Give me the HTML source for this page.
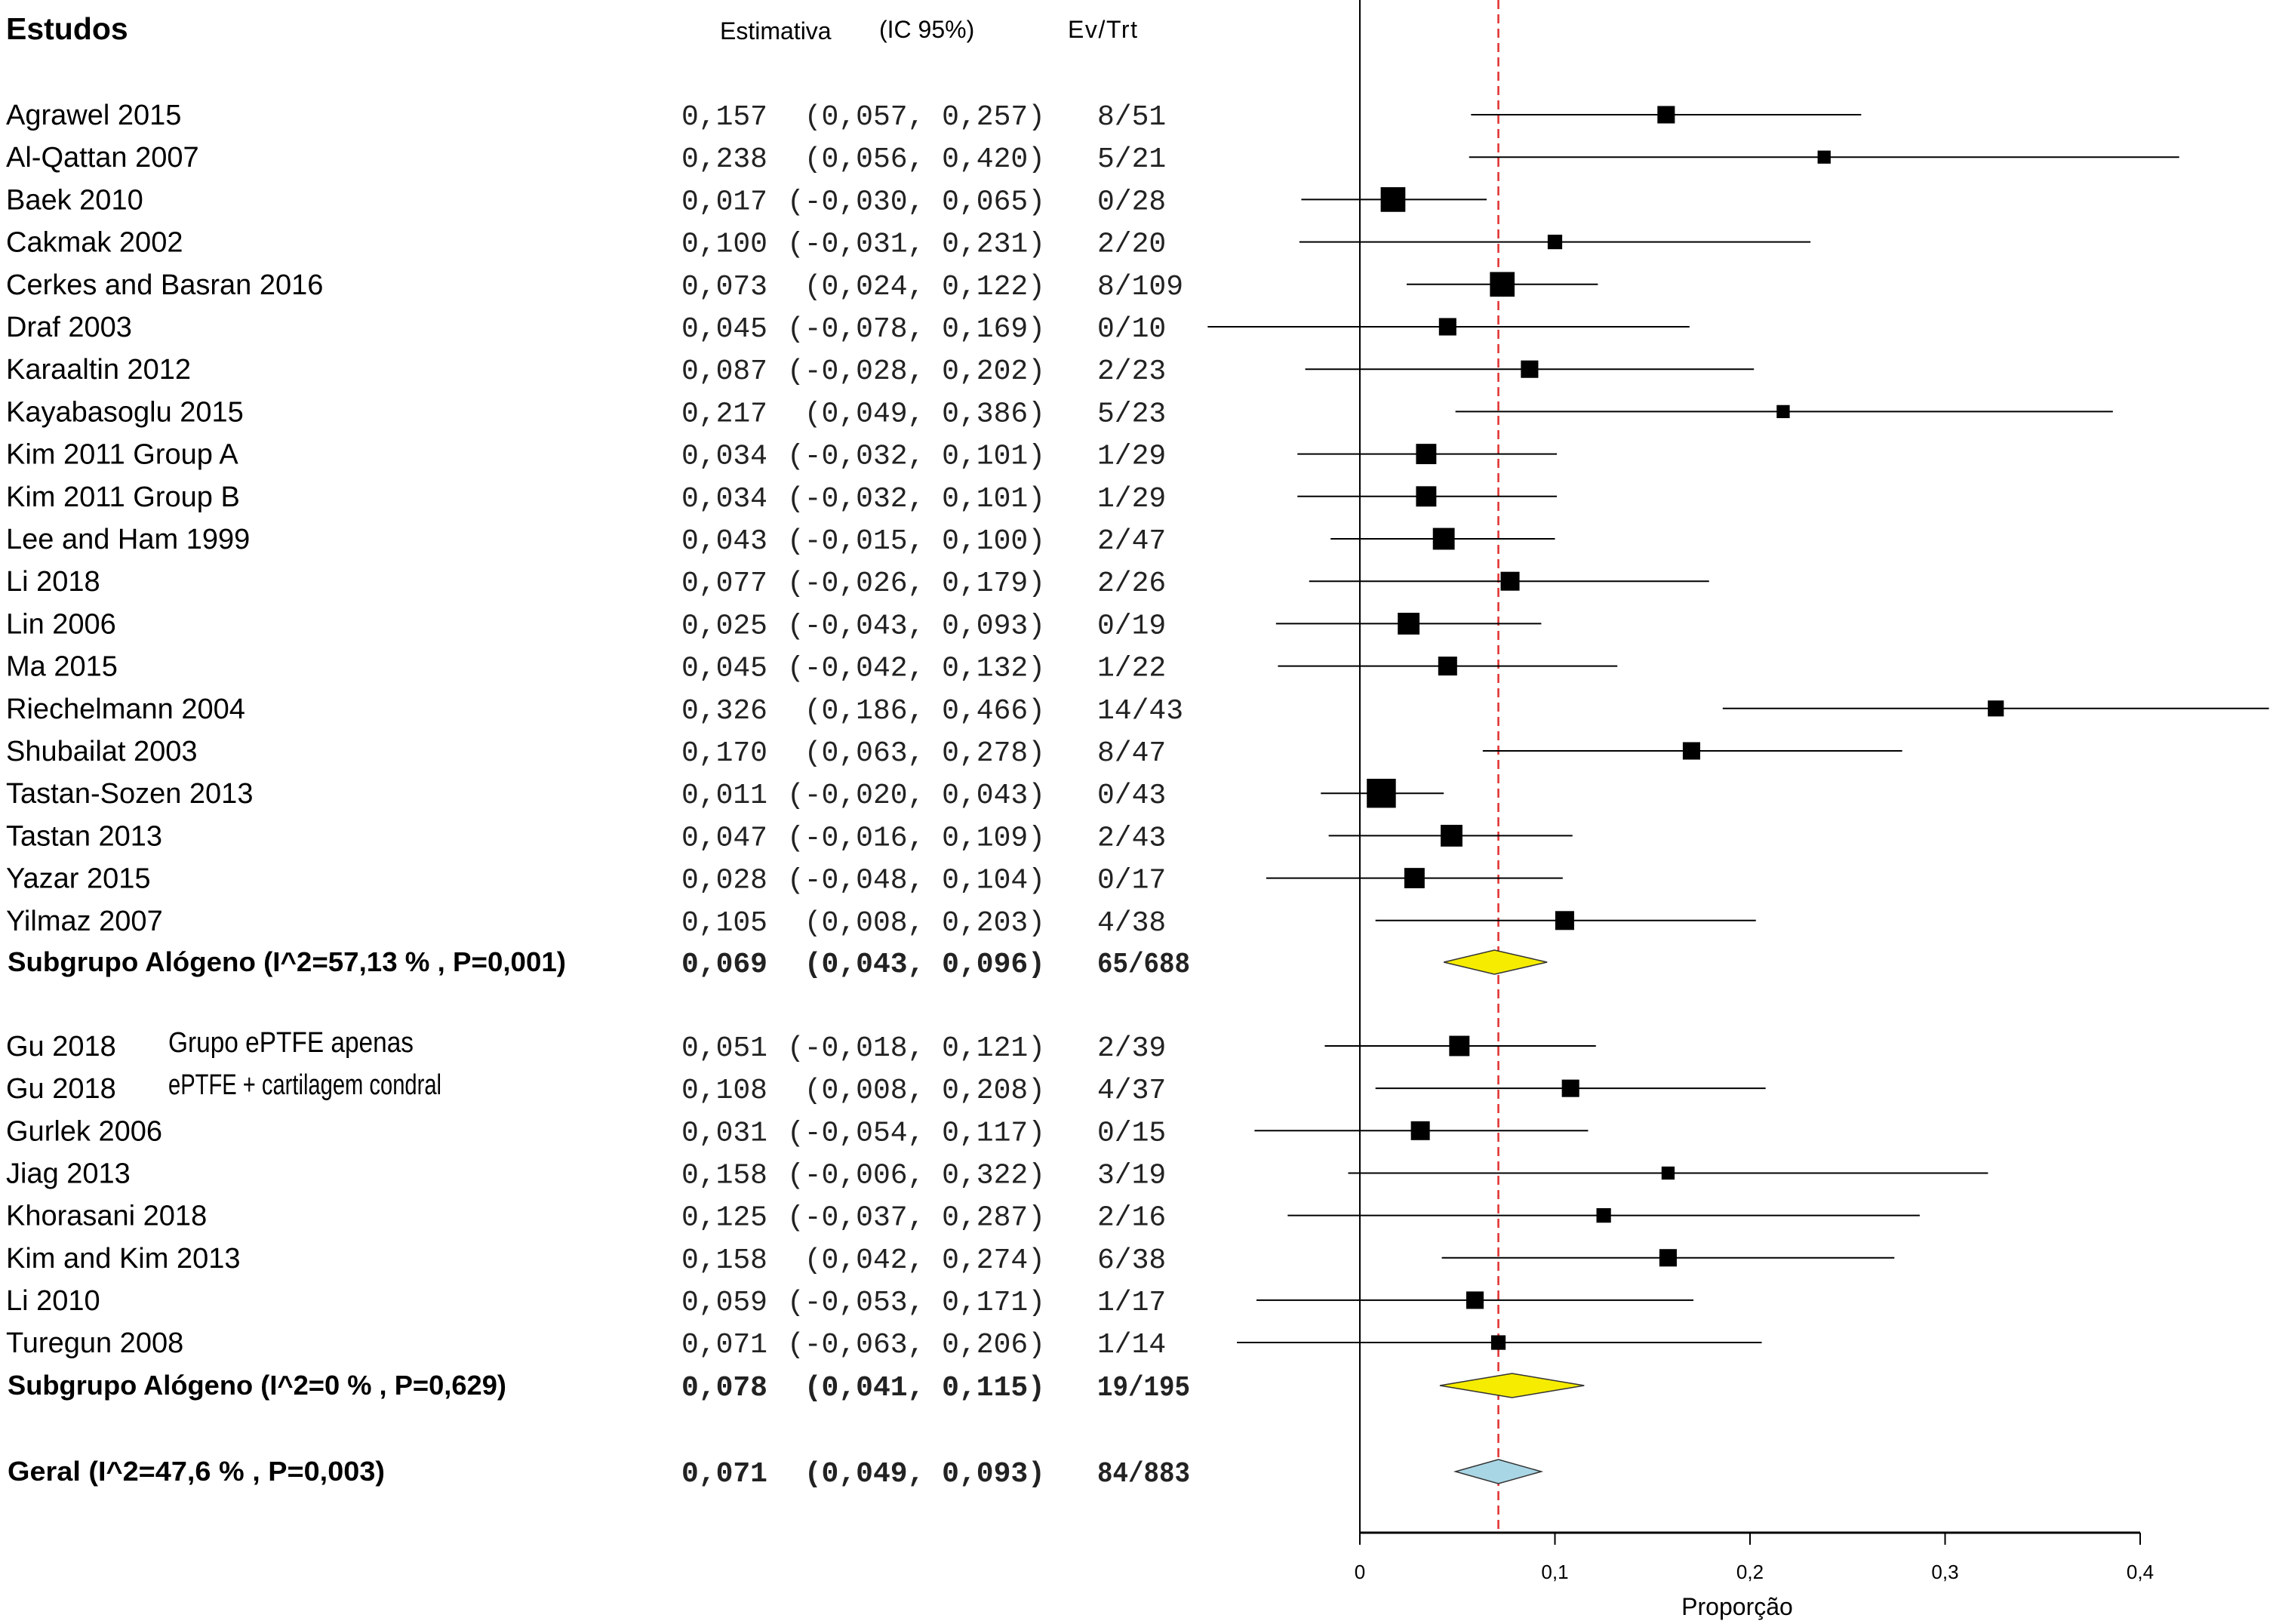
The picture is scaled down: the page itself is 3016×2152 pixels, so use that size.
<!DOCTYPE html>
<html><head><meta charset="utf-8"><style>
html,body{margin:0;padding:0;background:#fff}
svg{display:block}
.nm{font-family:"Liberation Sans",sans-serif;font-size:38px;fill:#000}
.mono{font-family:"Liberation Mono",monospace;font-size:38px;fill:#222}
.hd{font-family:"Liberation Sans",sans-serif;font-size:32px;fill:#000}
</style></head><body>
<svg id="chart" width="3016" height="2152" viewBox="0 0 3016 2152" xmlns="http://www.w3.org/2000/svg">
<text x="8" y="52" font-family="Liberation Sans, sans-serif" font-weight="bold" font-size="41">Estudos</text>
<text x="954" y="52" class="hd">Estimativa</text>
<text x="1165" y="50" class="hd">(IC 95%)</text>
<text x="1415" y="50" class="hd" textLength="92">Ev/Trt</text>
<g id="plot"></g>
</svg>
<script>
const names=["Agrawel 2015","Al-Qattan 2007","Baek 2010","Cakmak 2002","Cerkes and Basran 2016","Draf 2003","Karaaltin 2012","Kayabasoglu 2015","Kim 2011 Group A","Kim 2011 Group B","Lee and Ham 1999","Li 2018","Lin 2006","Ma 2015","Riechelmann 2004","Shubailat 2003","Tastan-Sozen 2013","Tastan 2013","Yazar 2015","Yilmaz 2007","Gu 2018","Gu 2018","Gurlek 2006","Jiag 2013","Khorasani 2018","Kim and Kim 2013","Li 2010","Turegun 2008"];
const subLabels=["","","","","","","","","","","","","","","","","","","","","Grupo ePTFE apenas","ePTFE + cartilagem condral","","","","","",""];
const est=[0.157,0.238,0.017,0.100,0.073,0.045,0.087,0.217,0.034,0.034,0.043,0.077,0.025,0.045,0.326,0.170,0.011,0.047,0.028,0.105,0.051,0.108,0.031,0.158,0.125,0.158,0.059,0.071];
const lo=[0.057,0.056,-0.030,-0.031,0.024,-0.078,-0.028,0.049,-0.032,-0.032,-0.015,-0.026,-0.043,-0.042,0.186,0.063,-0.020,-0.016,-0.048,0.008,-0.018,0.008,-0.054,-0.006,-0.037,0.042,-0.053,-0.063];
const hi=[0.257,0.420,0.065,0.231,0.122,0.169,0.202,0.386,0.101,0.101,0.100,0.179,0.093,0.132,0.466,0.278,0.043,0.109,0.104,0.203,0.121,0.208,0.117,0.322,0.287,0.274,0.171,0.206];
const evtrt=["8/51","5/21","0/28","2/20","8/109","0/10","2/23","5/23","1/29","1/29","2/47","2/26","0/19","1/22","14/43","8/47","0/43","2/43","0/17","4/38","2/39","4/37","0/15","3/19","2/16","6/38","1/17","1/14"];
const weights=[12,9,17,10,17,12,12,9,14,14,15,13,15,13,11,12,20,15,14,13,14,12,13,9,10,12,12,10];
const sumLabels=["Subgrupo Alógeno (I^2=57,13 % , P=0,001)","Subgrupo Alógeno (I^2=0 % , P=0,629)","Geral (I^2=47,6 % , P=0,003)"];
const sumEst=[0.069,0.078,0.071];
const sumLo=[0.043,0.041,0.049];
const sumHi=[0.096,0.115,0.093];
const sumEv=["65/688","19/195","84/883"];
const ticks=[0,0.1,0.2,0.3,0.4];
const tickLabels=["0","0,1","0,2","0,3","0,4"];
const overall=0.071;

const X0=1802,SC=2585;
const xs=v=>X0+v*SC;
const rowY=i=>i<20?152+56.2*i:1386+56.15*(i-20);
const sumY=[1275,1836,1950];
const sumW=[740,661,500];
const subW=[325,362];
const f=v=>v.toFixed(3).replace('.',',');
const NS="http://www.w3.org/2000/svg";
const g=document.getElementById('plot');
function mk(tag,attrs,text){const e=document.createElementNS(NS,tag);for(const k in attrs)e.setAttribute(k,attrs[k]);if(text!==undefined)e.textContent=text;g.appendChild(e);return e;}

let ax=mk('line',{x1:X0,y1:0,x2:X0,y2:2031,stroke:'#000','stroke-width':2});


let xa=mk('line',{x1:xs(0),y1:2031,x2:xs(0.4),y2:2031,stroke:'#000','stroke-width':3});


ticks.forEach((t,i)=>{
  let tl=mk('line',{x1:xs(t),y1:2031,x2:xs(t),y2:2047,stroke:'#000','stroke-width':2});
  
  
  let tt=mk('text',{x:xs(t),y:2092,'text-anchor':'middle','font-family':'Liberation Sans, sans-serif','font-size':26},tickLabels[i]);
  
  
});
let xt=mk('text',{x:2302,y:2140,'text-anchor':'middle','font-family':'Liberation Sans, sans-serif','font-size':32},'Proporção');



let rl=mk('line',{x1:xs(overall),y1:0,x2:xs(overall),y2:2031,stroke:'#e0302f','stroke-width':2.5,'stroke-dasharray':'12,7'});



let subIdx=0;
names.forEach((n,i)=>{
  const y=rowY(i);
  let t=mk('text',{x:8,y:y+13,class:'nm'},n);
  
  
  if(subLabels[i]){
    let s=mk('text',{x:223,y:y+8,class:'nm','font-size':31,textLength:subW[subIdx++],lengthAdjust:'spacingAndGlyphs'},subLabels[i]);
    
    
  }
  let e=mk('text',{x:1017,y:y+13,class:'mono','text-anchor':'end'},f(est[i]));
  
  
  let c=mk('text',{x:1385,y:y+13,class:'mono','text-anchor':'end','xml:space':'preserve'},'('+f(lo[i])+', '+f(hi[i])+')');
  
  
  let v=mk('text',{x:1454,y:y+13,class:'mono'},evtrt[i]);
  
  
  let l=mk('line',{x1:xs(lo[i]),y1:y,x2:xs(hi[i]),y2:y,stroke:'#000','stroke-width':2});
  
  
  const s=weights[i]*1.923;
  let r=mk('rect',{x:xs(est[i])-s/2,y:y-s/2,width:s,height:s,fill:'#000'});
  
  
});

sumLabels.forEach((n,i)=>{
  const y=sumY[i];
  let t=mk('text',{x:10,y:y+12,'font-family':'Liberation Sans, sans-serif','font-weight':'bold','font-size':36,textLength:sumW[i],lengthAdjust:'spacingAndGlyphs'},n);
  
  
  let e=mk('text',{x:1017,y:y+13,class:'mono','font-weight':'bold','text-anchor':'end',fill:'#000'},f(sumEst[i]));
  
  
  let c=mk('text',{x:1385,y:y+13,class:'mono','font-weight':'bold','text-anchor':'end','xml:space':'preserve'},'('+f(sumLo[i])+', '+f(sumHi[i])+')');
  
  
  let v=mk('text',{x:1454,y:y+13,class:'mono','font-weight':'bold',textLength:sumEv[i].length*20.5,lengthAdjust:'spacingAndGlyphs'},sumEv[i]);
  
  
  const h=16;
  const pts=[[xs(sumLo[i]),y],[xs(sumEst[i]),y-h],[xs(sumHi[i]),y],[xs(sumEst[i]),y+h]].map(p=>p.join(',')).join(' ');
  let d=mk('polygon',{points:pts,fill:i<2?'#f5ec00':'#a9d6e5',stroke:'#333','stroke-width':1.5});
  
  
});
</script>
</body></html>
